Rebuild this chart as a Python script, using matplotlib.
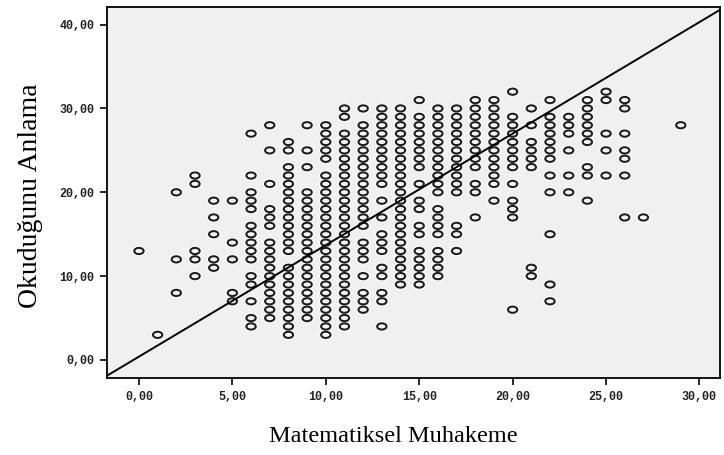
import matplotlib
matplotlib.use("Agg")
import matplotlib.pyplot as plt
from matplotlib.markers import MarkerStyle
from matplotlib.transforms import Affine2D
from matplotlib.ticker import FuncFormatter

# Matematiksel Muhakeme (x) levels and Okuduğunu Anlama (y) values observed at each level
x_levels = [0, 1, 2, 3, 4, 5, 6, 7, 8, 9, 10, 11, 12, 13, 14, 15, 16, 17, 18, 19,
            20, 21, 22, 23, 24, 25, 26, 27, 29]
y_at_0 = [13]
y_at_1 = [3]
y_at_2 = [20, 12, 8]
y_at_3 = [22, 21, 13, 12, 10]
y_at_4 = [19, 17, 15, 12, 11]
y_at_5 = [19, 14, 12, 8, 7]
y_at_6 = [27, 22, 20, 19, 18, 16, 15, 14, 13, 12, 10, 9, 7, 5, 4]
y_at_7 = [28, 25, 21, 18, 17, 16, 14, 13, 12, 11, 10, 9, 8, 7, 6, 5]
y_at_8 = [26, 25, 23, 22, 21, 20, 19, 18, 17, 16, 15, 14, 13, 11, 10, 9, 8, 7, 6, 5, 4, 3]
y_at_9 = [28, 25, 23, 20, 19, 18, 17, 16, 15, 14, 13, 12, 11, 10, 9, 8, 7, 6, 5]
y_at_10 = [28, 27, 26, 25, 24, 22, 21, 20, 19, 18, 17, 16, 15, 14, 13, 12, 11, 10, 9, 8,
           7, 6, 5, 4, 3]
y_at_11 = [30, 29, 27, 26, 25, 24, 23, 22, 21, 20, 19, 18, 17, 16, 15, 14, 13, 12, 11, 10,
           9, 8, 7, 6, 5, 4]
y_at_12 = [30, 28, 27, 26, 25, 24, 23, 22, 21, 20, 19, 18, 17, 16, 14, 13, 12, 10, 8, 7, 6]
y_at_13 = [30, 29, 28, 27, 26, 25, 24, 23, 22, 21, 19, 17, 15, 14, 13, 11, 10, 8, 7, 4]
y_at_14 = [30, 29, 28, 27, 26, 25, 24, 23, 22, 21, 20, 19, 18, 17, 16, 15, 14, 13, 12, 11,
           10, 9]
y_at_15 = [31, 29, 28, 27, 26, 25, 24, 23, 21, 19, 18, 16, 15, 13, 12, 11, 10, 9]
y_at_16 = [30, 29, 28, 27, 26, 25, 24, 23, 22, 21, 20, 18, 17, 16, 15, 13, 12, 11, 10]
y_at_17 = [30, 29, 28, 27, 26, 25, 24, 23, 22, 21, 20, 16, 15, 13]
y_at_18 = [31, 30, 29, 28, 27, 26, 25, 24, 23, 21, 20, 17]
y_at_19 = [31, 30, 29, 28, 27, 26, 25, 24, 23, 22, 21, 19]
y_at_20 = [32, 29, 28, 27, 26, 25, 24, 23, 21, 19, 18, 17, 6]
y_at_21 = [30, 28, 26, 25, 24, 23, 11, 10]
y_at_22 = [31, 29, 28, 27, 26, 25, 24, 22, 20, 15, 9, 7]
y_at_23 = [29, 28, 27, 25, 22, 20]
y_at_24 = [31, 30, 29, 28, 27, 26, 23, 22, 19]
y_at_25 = [32, 31, 27, 25, 22]
y_at_26 = [31, 30, 27, 25, 24, 22, 17]
y_at_27 = [17]
y_at_29 = [28]

y_columns = [y_at_0, y_at_1, y_at_2, y_at_3, y_at_4, y_at_5, y_at_6, y_at_7, y_at_8,
             y_at_9, y_at_10, y_at_11, y_at_12, y_at_13, y_at_14, y_at_15, y_at_16,
             y_at_17, y_at_18, y_at_19, y_at_20, y_at_21, y_at_22, y_at_23, y_at_24,
             y_at_25, y_at_26, y_at_27, y_at_29]

# reference line (intercept, slope) as drawn
line_intercept = 0.4
line_slope = 1.33

x_ticks = [0, 5, 10, 15, 20, 25, 30]
y_ticks = [0, 10, 20, 30, 40]
x_label = "Matematiksel Muhakeme"
y_label = "Okuduğunu Anlama"

xs, ys = [], []
for xv, col in zip(x_levels, y_columns):
    for yv in col:
        xs.append(xv)
        ys.append(yv)

fig = plt.figure(figsize=(7.24, 4.55), dpi=100)
ax = fig.add_axes([0.1478, 0.1692, 0.8467, 0.8154])
ax.set_facecolor("#f0f0f0")

xlim = (-1.71, 31.1)
ylim = (-2.15, 42.1)
ax.set_xlim(*xlim)
ax.set_ylim(*ylim)

mk = MarkerStyle("o", transform=Affine2D().scale(1.5, 1.0))
ax.scatter(xs, ys, marker=mk, s=20, facecolors="none", edgecolors="white",
           linewidths=3.0, zorder=2)
ax.scatter(xs, ys, marker=mk, s=20, facecolors="none", edgecolors="#1e1e1e",
           linewidths=1.5, zorder=3)

lx = [xlim[0], xlim[1]]
ly = [line_intercept + line_slope * v for v in lx]
ax.plot(lx, ly, color="black", lw=1.4, zorder=4, clip_on=True)

for s in ax.spines.values():
    s.set_color("black")
    s.set_linewidth(1.3)

fmt = FuncFormatter(lambda v, p: f"{v:.2f}".replace(".", ","))
ax.set_xticks(x_ticks)
ax.set_yticks(y_ticks)
ax.xaxis.set_major_formatter(fmt)
ax.yaxis.set_major_formatter(fmt)
ax.tick_params(axis="both", direction="out", length=5, width=1.2, color="black",
               labelsize=8.5, pad=4)
for lab in ax.get_xticklabels() + ax.get_yticklabels():
    lab.set_family("Liberation Mono")
    lab.set_fontweight("bold")
    lab.set_color("#222222")

fig.text(0.543, 0.04, x_label, ha="center", va="center",
         family="Liberation Serif", fontsize=17.5)
fig.text(0.042, 0.57, y_label, ha="center", va="center", rotation=90,
         family="Liberation Serif", fontsize=20)

fig.savefig("out.png", dpi=100)
